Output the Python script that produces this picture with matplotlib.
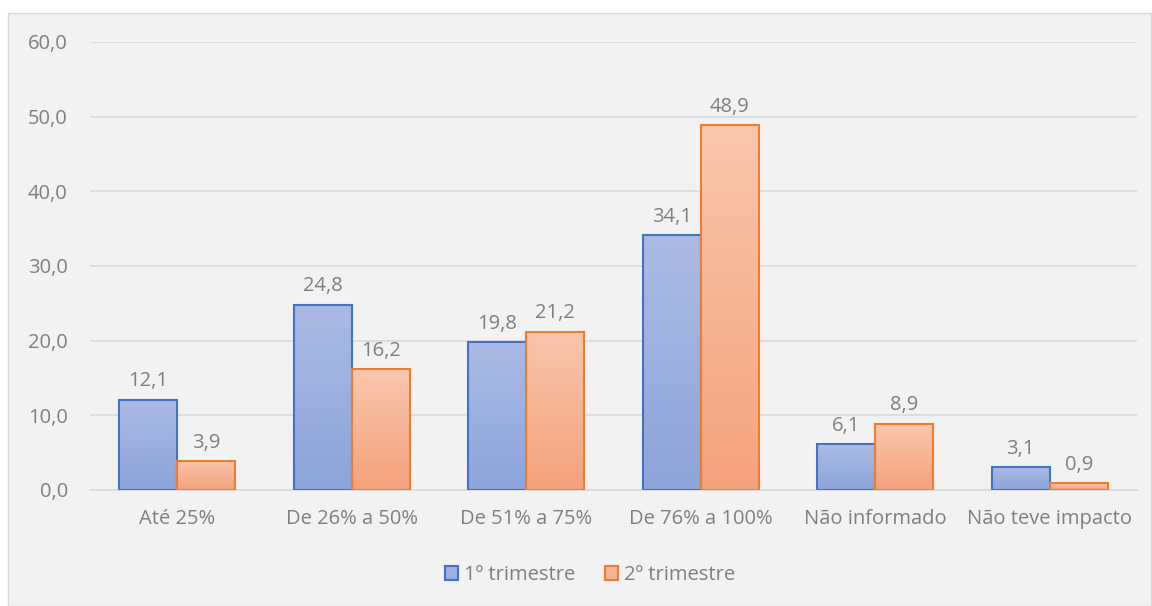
import matplotlib.pyplot as plt
import numpy as np
from matplotlib.colors import LinearSegmentedColormap
from matplotlib.patches import Rectangle, Patch
from matplotlib.ticker import FuncFormatter

categorias = ["Até 25%", "De 26% a 50%", "De 51% a 75%", "De 76% a 100%",
              "Não informado", "Não teve impacto"]
tri1 = [12.1, 24.8, 19.8, 34.1, 6.1, 3.1]
tri2 = [3.9, 16.2, 21.2, 48.9, 8.9, 0.9]
series = ["1º trimestre", "2º trimestre"]

plt.rcParams["font.family"] = ["Open Sans", "DejaVu Sans"]
cinza = "#7F7F7F"
fs = 14.5

fig = plt.figure(figsize=(11.52, 6.06), dpi=100)
fig.patch.set_facecolor("white")
fig.patches.append(Rectangle((8 / 1152, 0), 1143 / 1152, 593 / 606,
                             transform=fig.transFigure, facecolor="#F2F2F2",
                             edgecolor="#D9D9D9", linewidth=1, zorder=-10))

ax = fig.add_axes([90 / 1152, 1 - 490 / 606, 1047 / 1152, 448 / 606])
ax.set_facecolor("none")

x = np.arange(len(categorias))
w = 1 / 3

cores = [
    ("#4472C4", "#ABBAE4", "#8DA5DB"),
    ("#ED7D31", "#F9C6AD", "#F5A27C"),
]

for i, vals in enumerate([tri1, tri2]):
    borda, topo, base = cores[i]
    cmap = LinearSegmentedColormap.from_list("g%d" % i, [base, topo])
    grad = np.linspace(0, 1, 100).reshape(-1, 1)
    pos = x - w / 2 + i * w
    barras = ax.bar(pos, vals, width=w, facecolor="none", edgecolor=borda,
                    linewidth=1.5, zorder=3)
    for b, v in zip(barras, vals):
        ax.imshow(grad, extent=[b.get_x(), b.get_x() + w, 0, v], origin="lower",
                  aspect="auto", cmap=cmap, zorder=2, interpolation="bilinear")
        ax.annotate(f"{v:.1f}".replace(".", ","), (b.get_x() + w / 2, v),
                    xytext=(0, 6), textcoords="offset points", ha="center",
                    va="bottom", fontsize=fs, color=cinza)

ax.set_xlim(-0.5, len(categorias) - 0.5)
ax.set_ylim(0, 60)
ax.set_yticks(np.arange(0, 61, 10))
ax.yaxis.set_major_formatter(FuncFormatter(lambda v, p: f"{v:.1f}".replace(".", ",")))
ax.set_xticks(x)
ax.set_xticklabels(categorias)
ax.tick_params(length=0, labelsize=fs, labelcolor=cinza)
ax.tick_params(axis="y", pad=16)
ax.tick_params(axis="x", pad=14)
ax.grid(axis="y", color="#D9D9D9", linewidth=1.2, zorder=0)
ax.set_axisbelow(True)
for s in ["top", "right", "left"]:
    ax.spines[s].set_visible(False)
ax.spines["bottom"].set_color("#D9D9D9")
ax.spines["bottom"].set_linewidth(1.2)

handles = [Patch(facecolor="#9CB0E0", edgecolor="#4472C4", linewidth=1.5),
           Patch(facecolor="#F7B394", edgecolor="#ED7D31", linewidth=1.5)]
fig.legend(handles, series, loc="center", bbox_to_anchor=(590 / 1152, 1 - 575 / 606),
           ncol=2, frameon=False, fontsize=fs, labelcolor=cinza,
           handlelength=0.65, handleheight=0.65, handletextpad=0.3,
           columnspacing=1.5)

plt.savefig("out.png", dpi=100)
